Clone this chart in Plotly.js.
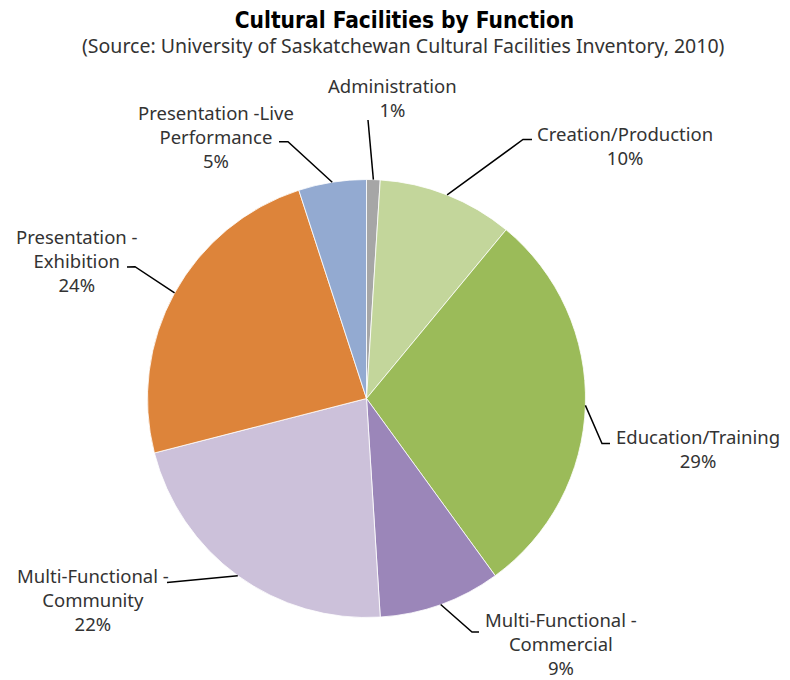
<!DOCTYPE html>
<html>
<head>
<meta charset="utf-8">
<script src="https://cdn.plot.ly/plotly-3.0.1.min.js"></script>
<style>
html,body{margin:0;padding:0;background:#fff;}
#chart{width:790px;height:680px;}
</style>
</head>
<body>
<div id="chart"></div>
<script>
// ---- data ----
const categories = [
  "Administration",
  "Creation/Production",
  "Education/Training",
  "Multi-Functional - Commercial",
  "Multi-Functional - Community",
  "Presentation - Exhibition",
  "Presentation -Live Performance"
];
const shares = [1, 10, 29, 9, 22, 24, 5];
const labelLines = [
  ["Administration"],
  ["Creation/Production"],
  ["Education/Training"],
  ["Multi-Functional -", "Commercial"],
  ["Multi-Functional -", "Community"],
  ["Presentation -", "Exhibition"],
  ["Presentation -Live", "Performance"]
];
const titleText = "Cultural Facilities by Function";
const subtitleText = "(Source: University of Saskatchewan Cultural Facilities Inventory, 2010)";

// ---- styling / layout (pixels) ----
const W = 790, H = 680;
const colors = ["#A6A6A6", "#C3D69B", "#9BBB59", "#9B86B9", "#CCC1DA", "#DD843A", "#93AAD1"];
const pie = {cx: 366.5, cy: 398.5, r: 219};
// label block centre, leader elbow / end points
const labelPos = [
  {x: 392, y: 97.5,  elbow: [368, 120],   end: [368, 120]},
  {x: 625, y: 145,   elbow: [523, 139.5], end: [532, 139.5]},
  {x: 698, y: 448.5, elbow: [602, 443.5], end: [610, 443.5]},
  {x: 561, y: 643,   elbow: [472, 632],   end: [479, 632]},
  {x: 93,  y: 599.5, elbow: [167, 582.5], end: [167, 582.5]},
  {x: 77,  y: 260,   elbow: [135, 266.7], end: [127, 267]},
  {x: 216, y: 136.5, elbow: [288, 141.7], end: [279, 141.7]}
];
const labelFont = {family: "Noto Sans", size: 18.5, color: "#333333"};

const px = v => v / W;
const py = v => 1 - v / H;

const total = shares.reduce((a, b) => a + b, 0);
const annotations = [];
const shapes = [];
let cum = 0;
shares.forEach((v, i) => {
  const mid = (cum + v / 2) / total * 2 * Math.PI;
  cum += v;
  const ex = pie.cx + pie.r * Math.sin(mid);
  const ey = pie.cy - pie.r * Math.cos(mid);
  const lp = labelPos[i];
  const pct = Math.round(v / total * 100) + "%";
  annotations.push({
    xref: "paper", yref: "paper",
    x: px(lp.x), y: py(lp.y),
    xanchor: "center", yanchor: "middle", align: "center",
    showarrow: false, borderpad: 0,
    text: labelLines[i].concat([pct]).join("<br>"),
    font: labelFont
  });
  shapes.push({
    type: "path", xref: "paper", yref: "paper",
    path: "M" + px(ex) + "," + py(ey) +
          " L" + px(lp.elbow[0]) + "," + py(lp.elbow[1]) +
          " L" + px(lp.end[0]) + "," + py(lp.end[1]),
    line: {color: "#000000", width: 1.5}
  });
});

annotations.push({
  xref: "paper", yref: "paper",
  x: px(403.5), y: py(46),
  xanchor: "center", yanchor: "middle", showarrow: false,
  text: subtitleText,
  font: {family: "Noto Sans", size: 19.5, color: "#333333"}
});

const trace = {
  type: "pie",
  labels: categories,
  values: shares,
  sort: false,
  direction: "clockwise",
  rotation: 0,
  textinfo: "none",
  hoverinfo: "label+percent",
  marker: {colors: colors, line: {color: "#ffffff", width: 0.8}},
  domain: {
    x: [px(pie.cx - pie.r), px(pie.cx + pie.r)],
    y: [py(pie.cy + pie.r), py(pie.cy - pie.r)]
  },
  showlegend: false
};

const layout = {
  width: W, height: H,
  margin: {l: 0, r: 0, t: 0, b: 0},
  paper_bgcolor: "#ffffff",
  title: {
    text: "<b>" + titleText + "</b>",
    x: px(404.5), xanchor: "center",
    y: py(20), yanchor: "middle", yref: "container",
    font: {family: "DejaVu Sans Condensed", size: 22.5, color: "#000000"}
  },
  annotations: annotations,
  shapes: shapes
};

Plotly.newPlot("chart", [trace], layout, {displayModeBar: false, staticPlot: true});
</script>
</body>
</html>
